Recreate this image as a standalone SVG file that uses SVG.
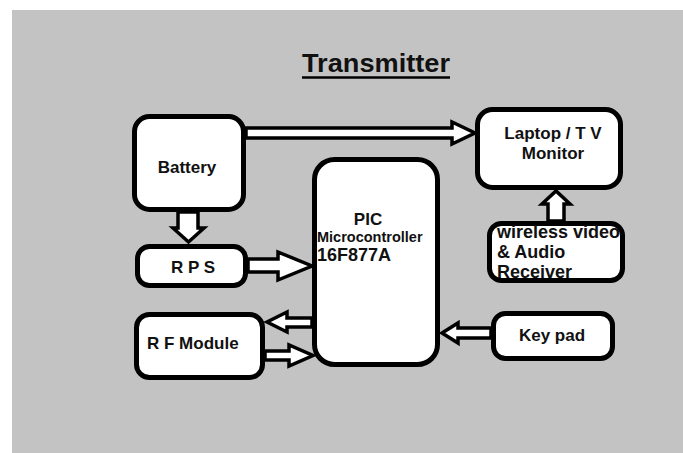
<svg xmlns="http://www.w3.org/2000/svg" width="683" height="453" viewBox="0 0 683 453">
<style>
.box{fill:#fff;stroke:#000;stroke-width:5}
.arr{fill:#fff;stroke:#000;stroke-width:3.5;stroke-linejoin:miter}
text{font-family:"Liberation Sans",Arial,sans-serif;font-weight:bold;fill:#111}
.lbl{font-size:17px}
.rcv{font-size:18px}
</style>
<rect x="0" y="0" width="683" height="453" fill="#fff"/>
<rect x="12" y="10" width="671" height="443" fill="#c3c3c3"/>
<text x="376" y="72" font-size="25" text-anchor="middle" textLength="148" lengthAdjust="spacingAndGlyphs">Transmitter</text>
<line x1="302" y1="77.5" x2="450" y2="77.5" stroke="#000" stroke-width="2.5"/>
<g id="connectors">
<polygon class="arr" points="246,128 452,128 452,122 475,133 452,144 452,138 246,138"/>
<polygon class="arr" points="178,212 198,212 198,228 204,228 188.5,242 173,228 178,228"/>
<polygon class="arr" points="248,259 278,259 278,252 312,266 278,280 278,272 248,272"/>
<polygon class="arr" points="312,318 287,318 287,312 267,322 287,332 287,327 312,327"/>
<polygon class="arr" points="265,351 289,351 289,345 313,355.5 289,366 289,360 265,360"/>
<polygon class="arr" points="491,328 458,328 458,323 442,333 458,343 458,338 491,338"/>
<polygon class="arr" points="548,221 548,204 542,204 556,191 570,204 564,204 564,221"/>
</g>
<g id="battery">
<rect class="box" x="134.5" y="116.5" width="109" height="93" rx="15"/>
<text class="lbl" x="187" y="173" text-anchor="middle">Battery</text>
</g>
<g id="rps">
<rect class="box" x="137.5" y="246.5" width="108" height="39" rx="12"/>
<text class="lbl" x="193" y="273" text-anchor="middle">R P S</text>
</g>
<g id="rf">
<rect class="box" x="136.5" y="314.5" width="126" height="63" rx="13"/>
<text class="lbl" x="147" y="349">R F Module</text>
</g>
<g id="pic">
<rect class="box" x="314.5" y="159.5" width="123" height="205" rx="20"/>
<text x="368" y="225" font-size="17" text-anchor="middle">PIC</text>
<text x="317" y="242" font-size="14.5">Microcontroller</text>
<text x="317" y="261" font-size="18">16F877A</text>
</g>
<g id="laptop">
<rect class="box" x="477.5" y="109.5" width="143" height="78" rx="15"/>
<text class="lbl" x="553" y="139" text-anchor="middle">Laptop / T V</text>
<text class="lbl" x="553" y="159" text-anchor="middle">Monitor</text>
</g>
<g id="receiver">
<rect class="box" x="489.5" y="223.5" width="133" height="57" rx="12"/>
<text class="rcv" x="497" y="238">wireless video</text>
<text class="rcv" x="497" y="258">&amp; Audio</text>
<text class="rcv" x="497" y="278">Receiver</text>
</g>
<g id="keypad">
<rect class="box" x="493.5" y="313.5" width="119" height="45" rx="12"/>
<text class="lbl" x="552" y="341" text-anchor="middle">Key pad</text>
</g>
</svg>
